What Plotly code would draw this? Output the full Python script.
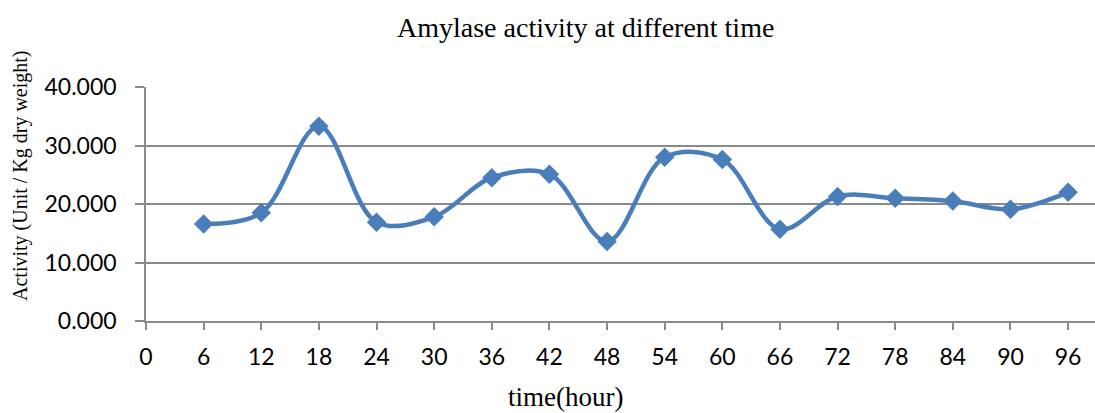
import plotly.graph_objects as go

hours = [6, 12, 18, 24, 30, 36, 42, 48, 54, 60, 66, 72, 78, 84, 90, 96]
activity = [16.6, 18.5, 33.3, 16.9, 17.8, 24.5, 25.1, 13.6, 28.0, 27.6, 15.7, 21.3, 21.0, 20.5, 19.1, 22.0]
x_ticks = list(range(0, 97, 6))
y_ticks = [0, 10, 20, 30, 40]
y_tick_labels = ["0.000", "10.000", "20.000", "30.000", "40.000"]

blue = "#4A7EBB"
grey = "#8A8A8A"
serif = "Liberation Serif, Times New Roman, serif"
sans = "Lato, Open Sans, sans-serif"

fig = go.Figure()
fig.add_trace(go.Scatter(
    x=hours, y=activity, mode="lines+markers",
    line=dict(color=blue, width=4.5, shape="spline", smoothing=1),
    marker=dict(symbol="diamond", size=15, color=blue),
    showlegend=False, cliponaxis=False,
))

fig.update_layout(
    width=1095, height=413,
    margin=dict(l=146, r=0, t=87, b=92),
    paper_bgcolor="white", plot_bgcolor="white",
    xaxis=dict(
        range=[0, 98.8], tickmode="array", tickvals=x_ticks,
        ticktext=[str(v) for v in x_ticks],
        showgrid=False, zeroline=False,
        showline=True, linecolor=grey, linewidth=1.5,
        ticks="outside", ticklen=7, tickcolor=grey, tickwidth=1.5,
        tickfont=dict(family=sans, size=23, color="black"),
        ticklabelstandoff=8,
    ),
    yaxis=dict(
        range=[0, 40], tickmode="array", tickvals=y_ticks, ticktext=y_tick_labels,
        showgrid=True, gridcolor=grey, gridwidth=1.5,
        zeroline=False,
        showline=True, linecolor=grey, linewidth=1.5,
        ticks="outside", ticklen=9, tickcolor=grey, tickwidth=1.5,
        tickfont=dict(family=sans, size=23, color="black"),
        ticklabelstandoff=14,
    ),
    annotations=[
        dict(text="Amylase activity at different time", xref="paper", yref="paper",
             x=(585 - 146) / 949, y=1 + (87 - 27) / 234, xanchor="center", yanchor="middle",
             showarrow=False, font=dict(family=serif, size=28, color="black")),
        dict(text="time(hour)", xref="paper", yref="paper",
             x=(565 - 146) / 949, y=-(397 - 321) / 234, xanchor="center", yanchor="middle",
             showarrow=False, font=dict(family=serif, size=27, color="black")),
        dict(text="Activity (Unit / Kg dry weight)", xref="paper", yref="paper",
             x=-(146 - 20) / 949, y=(321 - 176) / 234, xanchor="center", yanchor="middle",
             textangle=-90, showarrow=False, font=dict(family=serif, size=20, color="black")),
    ],
)

fig.write_html("out.html")
